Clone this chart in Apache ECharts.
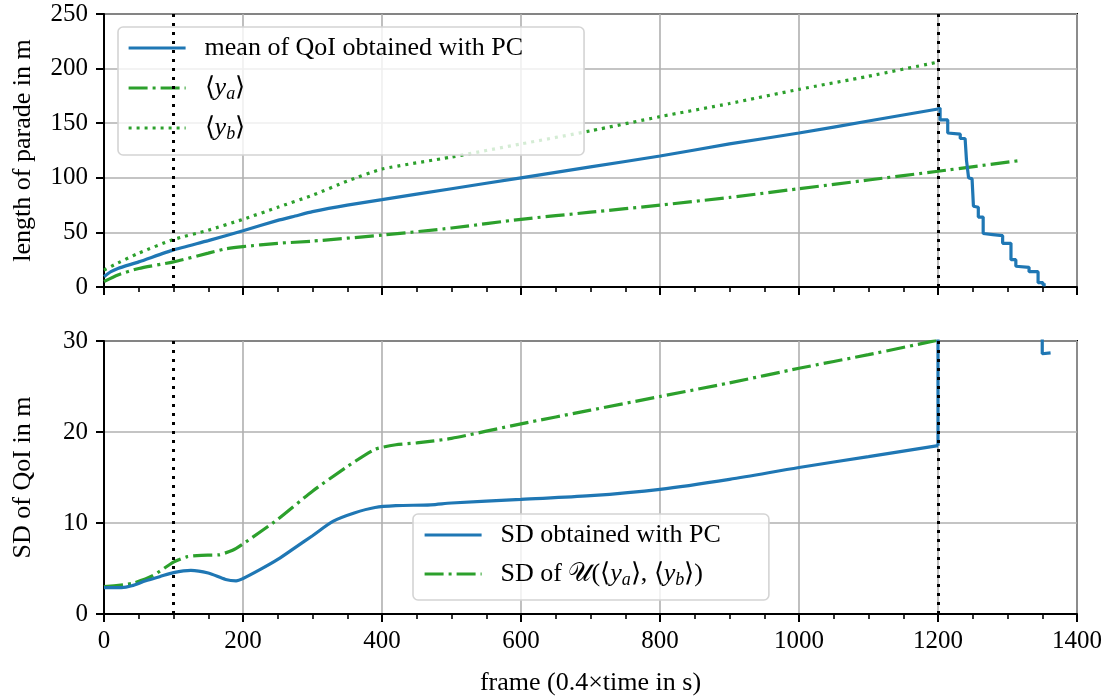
<!DOCTYPE html>
<html><head><meta charset="utf-8">
<script src="https://cdn.jsdelivr.net/npm/echarts@6/dist/echarts.min.js"></script>
<style>html,body{margin:0;padding:0;background:#fff}#c{width:1112px;height:697px}</style>
</head><body><div id="c"></div><script>
// ---- data (frames / values) ----
const meanFrames = [0,10,20,50,100,150,200,250,275,300,350,400,500,600,700,800,900,1000,1100,1200];
const meanValues = [9.5,14,17,23,34,42.5,51.5,61,65,69,75,80,90,100,110,120,131,141,152,163];
const meanStairFrames = [1200,1203,1203,1214,1214,1232,1232,1239,1241,1244,1249,1251,1251,1258,1258,1265,1265,1279,1279,1293,1293,1305,1305,1312,1312,1331,1331,1344,1344,1351,1351,1355];
const meanStairValues = [163,164,153,153,141,140,136,136,116,100,99,98,74,73,64,64,49,48,47,47,40,40,25,25,19,18,14,14,4,4,2,2];
const yaFrames = [0,20,50,100,150,175,200,250,300,400,500,600,700,800,900,1000,1100,1200,1320];
const yaValues = [5,11,17,23,31,35,37,40,42,47.5,54,62,68.5,75,82,90,98,106,116];
const ybFrames = [0,20,50,100,150,200,250,300,350,400,500,600,700,800,900,1000,1100,1200];
const ybValues = [15.5,22,31,43.5,52,62,73,84,97,108,119,131,143,156,168,181,193,206];
const sdFrames = [0,25,40,60,80,100,125,150,175,190,200,225,250,275,300,330,360,390,420,470,500,600,700,800,900,1000,1100,1200];
const sdValues = [2.9,2.9,3.1,3.65,4.1,4.55,4.8,4.5,3.8,3.65,3.9,4.9,6.0,7.3,8.6,10.2,11.1,11.7,11.9,12.0,12.2,12.6,13.0,13.7,14.8,16.1,17.3,18.5];
const sdJumpFrames = [1200,1200,1350,1350,1362];
const sdJumpValues = [18.5,45,45,28.6,28.7];
const sdUFrames = [0,40,70,100,120,140,165,185,200,250,300,350,390,420,450,500,600,700,800,900,1000,1100,1200];
const sdUValues = [3.0,3.35,4.2,5.7,6.3,6.45,6.5,7.0,7.7,10.4,13.5,16.2,18.1,18.6,18.8,19.3,20.9,22.4,23.9,25.4,27.0,28.5,30.1];
const markFrames = [100, 1200];
const xTickInterval = 200;
const topYInterval = 50, topYMax = 250;
const botYInterval = 10, botYMax = 30;

const zip = (xs, ys) => xs.map((x, i) => [x, ys[i]]);
const BLUE = '#1f77b4', GREEN = '#2ca02c';
const FONT = 'Liberation Serif';
const DASHDOT = [19, 5, 3, 5];
const DOT = [3, 5];
const LW = 3.2;

const axisCommon = {
  axisLine: {show: true, onZero: false, lineStyle: {color: '#000', width: 2}},
  axisTick: {show: true, inside: false, length: 8, lineStyle: {color: '#000', width: 2}},
  splitLine: {show: true, lineStyle: {color: '#b0b0b0', width: 1.6}},
};

const xAxisBase = (gi, showLabels) => Object.assign({}, axisCommon, {
  type: 'value', gridIndex: gi, min: 0, max: 1400, interval: xTickInterval,
  minorTick: {show: true, splitNumber: 4, length: 5, lineStyle: {color: '#000', width: 1.6}},
  axisLabel: {show: showLabels, margin: 15, color: '#000', fontFamily: FONT, fontSize: 25,
    formatter: v => String(v), showMinLabel: true, showMaxLabel: true},
});

const rich = {
  i: {fontFamily: FONT, fontStyle: 'italic', fontSize: 26, lineHeight: 30, color: '#000'},
  s: {fontFamily: FONT, fontStyle: 'italic', fontSize: 18, lineHeight: 18, verticalAlign: 'bottom', color: '#000'},
  u: {fontFamily: FONT, fontStyle: 'normal', fontSize: 26, lineHeight: 30, color: '#000'}
};
const labels = {
  mean: 'mean of QoI obtained with PC',
  ya: '⟨{i|y}{s|a}⟩',
  yb: '⟨{i|y}{s|b}⟩',
  sdpc: 'SD obtained with PC',
  sdu: 'SD of {u|𝒰}(⟨{i|y}{s|a}⟩, ⟨{i|y}{s|b}⟩)'
};
const legendBase = {
  orient: 'vertical', itemWidth: 57, itemHeight: 20,
  backgroundColor: 'rgba(255,255,255,0.8)', borderColor: '#d4d4d4', borderWidth: 1.6, borderRadius: 5,
  formatter: n => labels[n],
  itemStyle: {opacity: 0, color: 'transparent', borderWidth: 0},
  lineStyle: {opacity: 1, width: LW},
  textStyle: {fontFamily: FONT, fontSize: 26, lineHeight: 30, color: '#000', padding: [0,0,0,14], rich: rich},
  selectedMode: false
};

const markSeries = (xi, yi) => ({
  type: 'line', xAxisIndex: xi, yAxisIndex: yi, data: [], z: 5, silent: true,
  markLine: {symbol: 'none', silent: true, label: {show: false}, animation: false,
    lineStyle: {color: '#000', type: [3, 6], width: 3},
    data: markFrames.map(f => ({xAxis: f}))}
});

const option = {
  animation: false,
  backgroundColor: '#fff',
  grid: [
    {left: 104, top: 14, width: 973, height: 273, show: true, borderColor: '#000', borderWidth: 2, backgroundColor: 'transparent'},
    {left: 104, top: 341, width: 973, height: 274, show: true, borderColor: '#000', borderWidth: 2, backgroundColor: 'transparent'}
  ],
  xAxis: [
    xAxisBase(0, false),
    Object.assign(xAxisBase(1, true), {name: 'frame (0.4×time in s)', nameLocation: 'middle', nameGap: 56,
      nameTextStyle: {fontFamily: FONT, fontSize: 26, color: '#000'}})
  ],
  yAxis: [
    Object.assign({}, axisCommon, {type: 'value', gridIndex: 0, min: 0, max: topYMax, interval: topYInterval,
      axisLabel: {margin: 16, color: '#000', fontFamily: FONT, fontSize: 25},
      name: 'length of parade in m', nameLocation: 'middle', nameGap: 68,
      nameTextStyle: {fontFamily: FONT, fontSize: 26, color: '#000'}}),
    Object.assign({}, axisCommon, {type: 'value', gridIndex: 1, min: 0, max: botYMax, interval: botYInterval,
      axisLabel: {margin: 16, color: '#000', fontFamily: FONT, fontSize: 25},
      name: 'SD of QoI in m', nameLocation: 'middle', nameGap: 68,
      nameTextStyle: {fontFamily: FONT, fontSize: 26, color: '#000'}})
  ],
  legend: [
    Object.assign({}, legendBase, {left: 118, top: 27, padding: [6, 61, 12, 9], itemGap: 10,
      data: ['mean', 'ya', 'yb']}),
    Object.assign({}, legendBase, {left: 413, top: 514, padding: [6, 48, 11, 10], itemGap: 9,
      data: ['sdpc', 'sdu']})
  ],
  series: [
    {name: 'yb', type: 'line', xAxisIndex: 0, yAxisIndex: 0, data: zip(ybFrames, ybValues), symbol: 'none', smooth: 0.2,
      lineStyle: {color: GREEN, width: LW, type: DOT}, itemStyle: {color: GREEN}},
    {name: 'ya', type: 'line', xAxisIndex: 0, yAxisIndex: 0, data: zip(yaFrames, yaValues), symbol: 'none', smooth: 0.2,
      lineStyle: {color: GREEN, width: LW, type: DASHDOT}, itemStyle: {color: GREEN}},
    {name: 'mean', type: 'line', xAxisIndex: 0, yAxisIndex: 0, data: zip(meanFrames, meanValues), symbol: 'none', smooth: 0.2,
      lineStyle: {color: BLUE, width: LW}, itemStyle: {color: BLUE}},
    {name: 'mean', type: 'line', xAxisIndex: 0, yAxisIndex: 0, data: zip(meanStairFrames, meanStairValues), symbol: 'none',
      lineStyle: {color: BLUE, width: LW}, itemStyle: {color: BLUE}},
    markSeries(0, 0),
    {name: 'sdu', type: 'line', xAxisIndex: 1, yAxisIndex: 1, data: zip(sdUFrames, sdUValues), symbol: 'none', smooth: 0.2,
      lineStyle: {color: GREEN, width: LW, type: DASHDOT}, itemStyle: {color: GREEN}},
    {name: 'sdpc', type: 'line', xAxisIndex: 1, yAxisIndex: 1, data: zip(sdFrames, sdValues), symbol: 'none', smooth: 0.3,
      lineStyle: {color: BLUE, width: LW}, itemStyle: {color: BLUE}},
    {name: 'sdpc', type: 'line', xAxisIndex: 1, yAxisIndex: 1, data: zip(sdJumpFrames, sdJumpValues), symbol: 'none',
      lineStyle: {color: BLUE, width: LW}, itemStyle: {color: BLUE}},
    markSeries(1, 1)
  ]
};
const chart = echarts.init(document.getElementById('c'), null, {renderer: 'canvas'});
chart.setOption(option);
</script></body></html>
